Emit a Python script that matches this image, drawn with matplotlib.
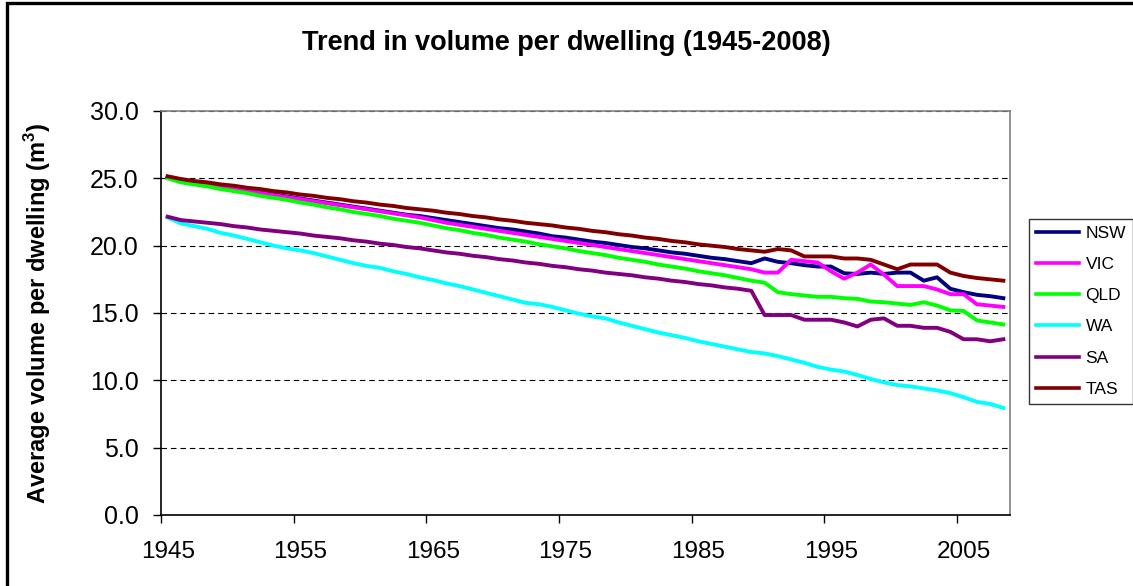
import matplotlib
matplotlib.use("Agg")
import matplotlib.pyplot as plt
from matplotlib.patches import Rectangle

plt.rcParams['font.family'] = ['Liberation Sans', 'DejaVu Sans']
plt.rcParams['mathtext.fontset'] = 'custom'
plt.rcParams['mathtext.rm'] = 'Liberation Sans'
plt.rcParams['mathtext.bf'] = 'Liberation Sans:bold'

years = list(range(1945, 2009))

nsw = [25.1, 24.85, 24.7, 24.55, 24.4, 24.25, 24.1, 23.95, 23.8, 23.65,
       23.5, 23.35, 23.2, 23.05, 22.9, 22.75, 22.6, 22.45, 22.3, 22.2,
       22.05, 21.9, 21.75, 21.6, 21.45, 21.3, 21.2, 21.05, 20.9, 20.7,
       20.6, 20.45, 20.3, 20.2, 20.05, 19.9, 19.8, 19.65, 19.5, 19.4,
       19.25, 19.1, 19.0, 18.85, 18.7, 19.05, 18.8, 18.7, 18.55, 18.45,
       18.45, 17.95, 17.9, 18.0, 17.9, 18.0, 18.0, 17.4, 17.65, 16.8,
       16.55, 16.35, 16.25, 16.1]

vic = [25.1, 24.8, 24.65, 24.5, 24.35, 24.2, 24.05, 23.9, 23.75, 23.6,
       23.45, 23.3, 23.15, 23.0, 22.85, 22.7, 22.55, 22.4, 22.25, 22.1,
       21.9, 21.7, 21.55, 21.4, 21.25, 21.1, 20.95, 20.8, 20.65, 20.5,
       20.35, 20.2, 20.05, 19.9, 19.75, 19.6, 19.45, 19.3, 19.15, 19.0,
       18.85, 18.7, 18.55, 18.4, 18.25, 18.0, 18.0, 18.95, 18.85, 18.75,
       18.1, 17.55, 18.0, 18.6, 17.85, 17.0, 17.0, 17.0, 16.75, 16.4,
       16.4, 15.65, 15.55, 15.45]

qld = [25.0, 24.7, 24.55, 24.4, 24.2, 24.05, 23.9, 23.7, 23.55, 23.4,
       23.2, 23.05, 22.85, 22.7, 22.5, 22.35, 22.2, 22.0, 21.85, 21.7,
       21.5, 21.3, 21.15, 20.95, 20.8, 20.6, 20.45, 20.3, 20.1, 19.95,
       19.8, 19.6, 19.45, 19.3, 19.1, 18.95, 18.8, 18.6, 18.45, 18.3,
       18.1, 17.95, 17.8, 17.6, 17.4, 17.25, 16.55, 16.4, 16.3, 16.2,
       16.2, 16.1, 16.05, 15.85, 15.8, 15.7, 15.6, 15.8, 15.55, 15.2,
       15.15, 14.45, 14.3, 14.15]

wa = [22.1, 21.65, 21.45, 21.25, 20.95, 20.75, 20.5, 20.25, 20.0, 19.8,
      19.65, 19.45, 19.2, 18.95, 18.7, 18.5, 18.35, 18.1, 17.9, 17.65,
      17.45, 17.2, 17.0, 16.75, 16.5, 16.25, 16.0, 15.75, 15.65, 15.45,
      15.2, 14.95, 14.75, 14.6, 14.3, 14.05, 13.8, 13.55, 13.35, 13.15,
      12.9, 12.7, 12.5, 12.3, 12.1, 12.0, 11.8, 11.55, 11.3, 11.0,
      10.8, 10.65, 10.4, 10.1, 9.85, 9.65, 9.55, 9.4, 9.25, 9.05,
      8.75, 8.4, 8.25, 7.95]

sa = [22.15, 21.9, 21.8, 21.7, 21.6, 21.45, 21.35, 21.2, 21.1, 21.0,
      20.9, 20.75, 20.65, 20.55, 20.4, 20.3, 20.15, 20.05, 19.9, 19.8,
      19.65, 19.5, 19.4, 19.25, 19.15, 19.0, 18.9, 18.75, 18.65, 18.5,
      18.4, 18.25, 18.15, 18.0, 17.9, 17.8, 17.65, 17.55, 17.4, 17.3,
      17.15, 17.05, 16.9, 16.8, 16.65, 14.85, 14.85, 14.85, 14.5, 14.5,
      14.5, 14.3, 14.0, 14.5, 14.6, 14.05, 14.05, 13.9, 13.9, 13.6,
      13.05, 13.05, 12.9, 13.05]

tas = [25.15, 24.95, 24.8, 24.7, 24.55, 24.45, 24.3, 24.2, 24.05, 23.95,
       23.8, 23.7, 23.55, 23.45, 23.3, 23.2, 23.05, 22.95, 22.8, 22.7,
       22.6, 22.45, 22.35, 22.2, 22.1, 21.95, 21.85, 21.7, 21.6, 21.5,
       21.35, 21.25, 21.1, 21.0, 20.85, 20.75, 20.6, 20.5, 20.35, 20.25,
       20.1, 20.0, 19.9, 19.75, 19.65, 19.55, 19.75, 19.65, 19.2, 19.2,
       19.2, 19.05, 19.05, 18.95, 18.6, 18.25, 18.6, 18.6, 18.6, 18.0,
       17.75, 17.6, 17.5, 17.4]

series_names = ['NSW', 'VIC', 'QLD', 'WA', 'SA', 'TAS']
series_values = [nsw, vic, qld, wa, sa, tas]
series_colors = ['#000080', '#FF00FF', '#00FF00', '#00FFFF', '#800080', '#800000']

x_tick_labels = ['1945', '1955', '1965', '1975', '1985', '1995', '2005']
y_ticks = [0, 5, 10, 15, 20, 25, 30]

W, H = 1133, 586
fig = plt.figure(figsize=(W / 100, H / 100), dpi=100)
ax = fig.add_axes([161 / W, 1 - 515 / H, (1010 - 161) / W, (515 - 111) / H])

for name, vals, col in zip(series_names, series_values, series_colors):
    ax.plot(years, vals, color=col, lw=2.8, label=name, solid_joinstyle='round')

ax.set_xlim(1944.5, 2008.5)
ax.set_ylim(0, 30)

# major ticks: category boundaries (marks only)
ax.set_xticks([int(t) - 0.5 for t in x_tick_labels])
ax.set_xticklabels([])
ax.set_xticks([int(t) for t in x_tick_labels], minor=True)
ax.set_xticklabels(x_tick_labels, minor=True)
ax.tick_params(axis='x', which='major', direction='out', length=6, width=1, color='black')
ax.tick_params(axis='x', which='minor', length=0, pad=19, labelsize=17.5)

ax.set_yticks(y_ticks)
ax.set_yticklabels([f'{v:.1f}' for v in y_ticks])
ax.tick_params(axis='y', direction='out', length=6, width=1, pad=10, labelsize=18)

for v in y_ticks[1:]:
    ax.axhline(v, color='black', lw=0.8, ls=(0, (5, 3.5)), zorder=0.5)

ax.spines['left'].set_color('black')
ax.spines['bottom'].set_color('black')
ax.spines['top'].set_color('#808080')
ax.spines['right'].set_color('#808080')
for s in ax.spines.values():
    s.set_linewidth(1.2)

fig.text(566 / W, 1 - 43 / H, 'Trend in volume per dwelling (1945-2008)',
         ha='center', va='center', fontsize=19.5, fontweight='bold')
fig.text(38 / W, 1 - 313 / H, r'Average volume per dwelling (m$^{\mathbf{3}}$)',
         ha='center', va='center', rotation=90, fontsize=17, fontweight='bold')

leg = ax.legend(loc='upper left', bbox_to_anchor=(1029 / W, 1 - 219 / H),
                bbox_transform=fig.transFigure, borderaxespad=0, fontsize=12.5,
                frameon=True, fancybox=False, shadow=False, handlelength=2.5,
                handletextpad=0.35, labelspacing=0.92, borderpad=0.4)
leg.get_frame().set_edgecolor('black')
leg.get_frame().set_linewidth(1.0)
for h in leg.get_lines():
    h.set_linewidth(2.6)

fig.add_artist(Rectangle((7 / W, -10 / H), (1160 - 7) / W, (583 + 10) / H,
                         transform=fig.transFigure, fill=False, edgecolor='black',
                         lw=2.4, clip_on=False))

fig.savefig('out.png', dpi=100)
